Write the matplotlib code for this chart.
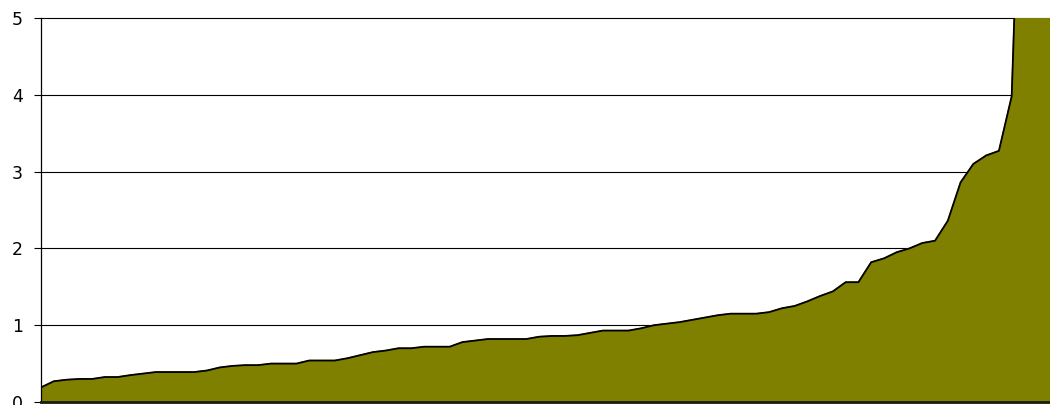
import numpy as np
import matplotlib
matplotlib.use("Agg")
import matplotlib.pyplot as plt

# values, sorted ascending (one per category)
values = [
    0.19, 0.27, 0.29, 0.30, 0.30, 0.325, 0.325, 0.35, 0.37, 0.39,
    0.39, 0.39, 0.39, 0.41, 0.45, 0.47, 0.48, 0.48, 0.50, 0.50,
    0.50, 0.54, 0.54, 0.54, 0.57, 0.61, 0.65, 0.67, 0.70, 0.70,
    0.72, 0.72, 0.72, 0.78, 0.80, 0.82, 0.82, 0.82, 0.82, 0.85,
    0.86, 0.86, 0.87, 0.90, 0.93, 0.93, 0.93, 0.96, 1.00, 1.02,
    1.04, 1.07, 1.10, 1.13, 1.15, 1.15, 1.15, 1.17, 1.22, 1.25,
    1.31, 1.38, 1.44, 1.56, 1.56, 1.82, 1.87, 1.95, 2.00, 2.07,
    2.10, 2.36, 2.86, 3.10, 3.21, 3.27, 3.98, 9.0, 15.0, 25.0,
]
y_ticks = [0, 1, 2, 3, 4, 5]

x = np.arange(len(values))

fig = plt.figure(figsize=(10.5, 4.05), dpi=100)
ax = fig.add_axes([41 / 1050, 3 / 405, 1 - 41 / 1050, 384 / 405])

ax.fill_between(x, 0, values, color="#808000", zorder=2)
ax.plot(x, values, color="black", lw=1.3, zorder=3)

ax.set_xlim(0, len(values) - 1)
ax.set_ylim(0, 5)
ax.set_yticks(y_ticks)
ax.set_yticklabels([str(t) for t in y_ticks], fontsize=12.5)
ax.set_xticks([])
ax.tick_params(axis="y", direction="out", length=5, width=0.8, pad=8)

for t in y_ticks[1:]:
    ax.axhline(t, color="black", lw=0.8, zorder=1, clip_on=False)

for s in ["top", "right"]:
    ax.spines[s].set_visible(False)
ax.spines["left"].set_linewidth(0.9)
ax.spines["bottom"].set_linewidth(2)
ax.spines["bottom"].set_color("#1a1a0a")
ax.spines["bottom"].set_zorder(4)

fig.savefig("out.png", dpi=100)
